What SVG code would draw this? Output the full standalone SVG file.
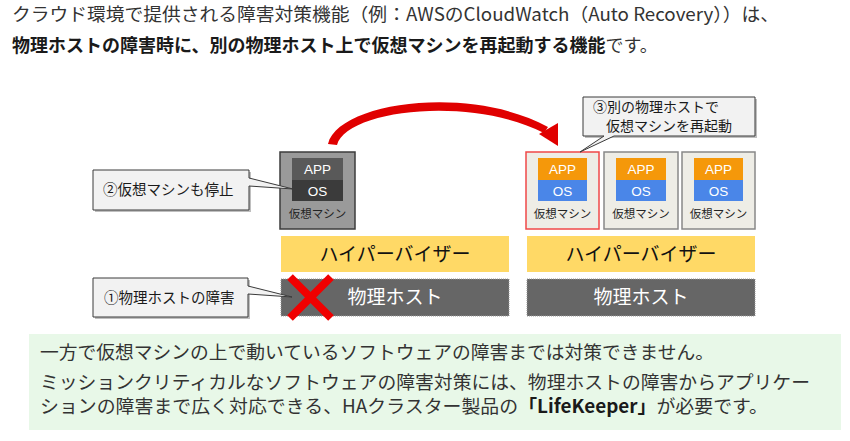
<svg xmlns="http://www.w3.org/2000/svg" width="850" height="441" viewBox="0 0 850 441">
<style>
.jp{font-family:"Noto Sans CJK JP","Noto Sans",sans-serif}
.hdr{font-size:18px;fill:#333}
.hdrb{font-size:18px;fill:#1a1a1a;font-weight:bold}
.body{font-size:18.5px;fill:#333}
.co{fill:#F2F2F2;stroke:#3a3a3a;stroke-width:1}
.shadow{fill:#000;opacity:.25}
.cot{font-size:14.5px;fill:#1a1a1a}
.vmL{fill:#9a9a9a;stroke:#3c3c3c;stroke-width:1.5}
.vmR{fill:#EEEDE6;stroke:#888;stroke-width:1.5}
.vmRed{fill:#EEEDE6;stroke:#F04848;stroke-width:1.5}
.lbl{font-size:11.5px;fill:#222;text-anchor:middle}
.w{font-size:13.5px;fill:#fff;text-anchor:middle;font-family:"Liberation Sans",Arial,sans-serif}
.hv{fill:#FFD966}
.ph{fill:#666;stroke:#999;stroke-width:1;stroke-dasharray:1 1}
.hvt{font-size:19px;fill:#111;text-anchor:middle}
.pht{font-size:19px;fill:#fff;text-anchor:middle}
</style>
<defs>
<pattern id="stip" width="2" height="2" patternUnits="userSpaceOnUse">
<rect width="2" height="2" fill="#a0a0a0"/><rect width="1" height="1" fill="#8a8a8a"/>
</pattern>
</defs>
<rect width="850" height="441" fill="#fff"/>

<g id="header" class="jp">
<text class="hdr" x="12" y="21" textLength="767" lengthAdjust="spacingAndGlyphs">クラウド環境で提供される障害対策機能（例：AWSのCloudWatch（Auto Recovery））は、</text>
<text class="hdr" x="12" y="52"><tspan class="hdrb">物理ホストの障害時に、別の物理ホスト上で仮想マシンを再起動する機能</tspan>です。</text>
</g>

<g id="connectors">
<path d="M328,144 C338,102 470,84 548,127 L544,133 C470,95 346,110 337,145 Z" fill="#E00000"/>
<path d="M558,146 L539,134 L558,123 Z" fill="#E00000"/>
</g>

<g id="vm-stopped">
<rect class="vmL" x="280" y="152" width="75" height="77" fill="url(#stip)"/>
<rect x="292" y="158" width="51" height="22" fill="#595959"/>
<rect x="292" y="180" width="51" height="21" fill="#3b3b3b"/>
<text class="w" x="317.5" y="174">APP</text>
<text class="w" x="317.5" y="195.5">OS</text>
<text class="lbl jp" x="317.5" y="218">仮想マシン</text>
</g>

<g id="vm-restarted">
<rect class="vmRed" x="526" y="152" width="73" height="77"/>
<rect x="538" y="158" width="49" height="22" fill="#F5980A"/>
<rect x="538" y="180" width="49" height="21" fill="#4A86E8"/>
<text class="w" x="562.5" y="174">APP</text>
<text class="w" x="562.5" y="195.5">OS</text>
<text class="lbl jp" x="562.5" y="218">仮想マシン</text>
</g>

<g id="vm-2">
<rect class="vmR" x="604" y="152" width="74" height="77"/>
<rect x="616" y="158" width="50" height="22" fill="#F5980A"/>
<rect x="616" y="180" width="50" height="21" fill="#4A86E8"/>
<text class="w" x="641" y="174">APP</text>
<text class="w" x="641" y="195.5">OS</text>
<text class="lbl jp" x="641" y="218">仮想マシン</text>
</g>

<g id="vm-3">
<rect class="vmR" x="682" y="152" width="73" height="77"/>
<rect x="694" y="158" width="49" height="22" fill="#F5980A"/>
<rect x="694" y="180" width="49" height="21" fill="#4A86E8"/>
<text class="w" x="718.5" y="174">APP</text>
<text class="w" x="718.5" y="195.5">OS</text>
<text class="lbl jp" x="718.5" y="218">仮想マシン</text>
</g>

<g id="hypervisor-left">
<rect class="hv" x="281" y="236" width="228" height="36"/>
<text class="hvt jp" x="395" y="261">ハイパーバイザー</text>
</g>
<g id="hypervisor-right">
<rect class="hv" x="527" y="236" width="228" height="36"/>
<text class="hvt jp" x="641" y="261">ハイパーバイザー</text>
</g>

<g id="host-left">
<rect class="ph" x="281" y="279" width="228" height="37"/>
<text class="pht jp" x="395" y="304">物理ホスト</text>
</g>
<g id="host-right">
<rect class="ph" x="527" y="279" width="228" height="37"/>
<text class="pht jp" x="641" y="304">物理ホスト</text>
</g>

<g id="fault-x">
<path d="M290,277 L331,318 M331,277 L290,318" stroke="#F00000" stroke-width="8" fill="none"/>
</g>

<g id="callout-2">
<path class="shadow" d="M95,172 H251 V212 H95 Z"/>
<path class="co" d="M93,170 H249 V178 L293,189 L249,186 V210 H93 Z"/>
<text class="cot jp" x="103" y="195">②仮想マシンも停止</text>
</g>

<g id="callout-1">
<path class="shadow" d="M95,280 H250 V319 H95 Z"/>
<path class="co" d="M93,278 H248 V286 L292,297 L248,294 V317 H93 Z"/>
<text class="cot jp" x="104" y="303">①物理ホストの障害</text>
</g>

<g id="callout-3">
<path class="shadow" d="M585,99 H757 V138 H585 Z"/>
<path class="co" d="M583,97 H755 V136 H614 L580,152 L604,136 H583 Z"/>
<text class="jp" x="593" y="112" font-size="14" fill="#1a1a1a">③別の物理ホストで</text>
<text class="jp" x="606" y="131" font-size="14" fill="#1a1a1a">仮想マシンを再起動</text>
</g>

<g id="note">
<rect x="29" y="334" width="812" height="96" fill="#E8F8E8"/>
<text class="body jp" x="40" y="359" textLength="674" lengthAdjust="spacingAndGlyphs">一方で仮想マシンの上で動いているソフトウェアの障害までは対策できません。</text>
<text class="body jp" x="40" y="389" textLength="770" lengthAdjust="spacingAndGlyphs">ミッションクリティカルなソフトウェアの障害対策には、物理ホストの障害からアプリケー</text>
<text class="body jp" x="40" y="413" textLength="728" lengthAdjust="spacingAndGlyphs">ションの障害まで広く対応できる、HAクラスター製品の<tspan font-weight="bold" fill="#1a1a1a">「LifeKeeper」</tspan>が必要です。</text>
</g>
</svg>
